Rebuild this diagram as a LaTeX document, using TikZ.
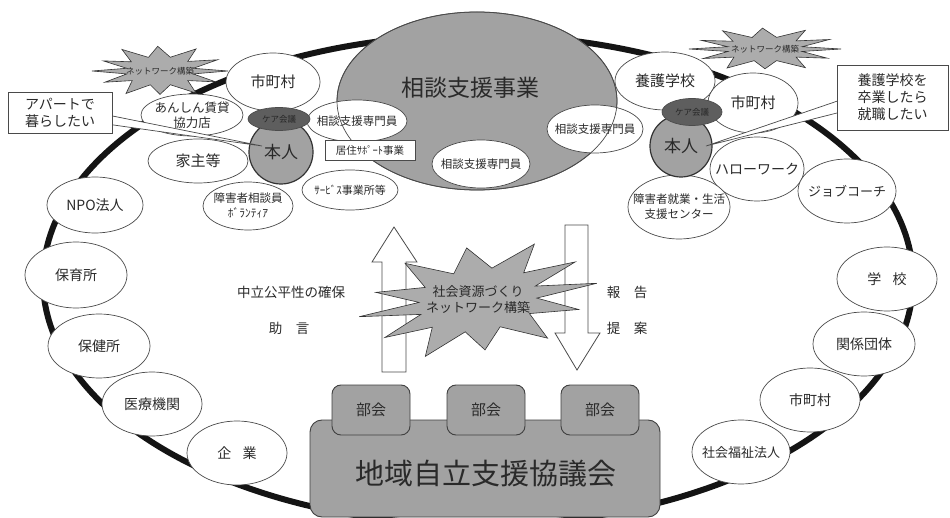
\documentclass[tikz,border=0pt]{standalone}
\usepackage{fontspec}
\setmainfont{Noto Sans CJK JP}
\usetikzlibrary{shapes.geometric,calc}
\definecolor{edge}{HTML}{4A4A4A}
\definecolor{txt}{HTML}{2A2A2A}
\definecolor{midgray}{HTML}{A2A2A2}
\definecolor{caregray}{HTML}{5E5E5E}
\definecolor{stargray}{HTML}{ACACAC}
\newcommand\fsz[2]{\fontsize{#1}{#2}\selectfont}
\newcommand\zc[1]{\makebox[0pt]{\raisebox{-0.38em}[0pt][0pt]{\begin{tabular}{@{}c@{}}#1\end{tabular}}}}
\newcommand\burstpath{(0:1) -- (12:.5) -- (27:.95) -- (42:.55) -- (58:1) -- (74:.55) -- (92:.95) -- (108:.55) -- (124:1) -- (140:.55) -- (155:.92) -- (168:.5) -- (180:1) -- (193:.5) -- (208:.92) -- (222:.55) -- (240:1) -- (255:.55) -- (270:.9) -- (286:.55) -- (302:1) -- (318:.55) -- (333:.92) -- (347:.5) -- cycle}
\tikzset{
  ob/.style={ellipse, draw=edge, fill=white, line width=0.7pt, inner sep=0pt, text=txt},
  sz/.style 2 args={minimum width=#1, minimum height=#2},
  ring/.style={draw=black!92, line width=6pt},
  starsty/.style={fill=stargray, draw=black!80, line width=0.6pt, line join=miter},
  boxsty/.style={rectangle, draw=edge, fill=white, line width=0.8pt, inner sep=0pt, text=txt},
  grayrr/.style={rectangle, rounded corners=9pt, draw=black!75, fill=midgray, line width=0.9pt, inner sep=0pt, text=txt},
  person/.style={circle, draw=black!80, fill=midgray, line width=1.2pt, inner sep=0pt, minimum size=#1, text=txt},
  care/.style={ellipse, draw=black!70, fill=caregray, line width=0.7pt, inner sep=0pt, text=black!85},
  plain/.style={inner sep=0pt, text=txt},
  arrowsty/.style={draw=edge, fill=white, line width=0.8pt, line join=miter},
  wedge/.style={draw=edge, fill=white, line width=0.7pt, line join=miter}
}
\begin{document}
\begin{tikzpicture}[x=1pt, y=-1pt]
\fill[white] (0,0) rectangle (950,518);
\useasboundingbox (0,0) rectangle (950,518);

% outer ring
\draw[ring] (478,280) ellipse [x radius=435pt, y radius=245pt];

% central consultation ellipse
\node[ellipse, draw=edge, fill=midgray, line width=0.8pt, inner sep=0pt, sz={280}{178}] (jigyo) at (477,101) {};
\node[plain, font=\fsz{23}{26}] (jigyoT) at (470,88) {相談支援事業};

% small ellipses around / inside
\node[ob, sz={100}{42}, font=\fsz{11.5}{14}] (sen1) at (357,121) {\zc{相談支援専門員}};
\node[ob, sz={98}{48}, font=\fsz{11.5}{14}] (sen2) at (481,164) {\zc{相談支援専門員}};
\node[ob, sz={96}{48}, font=\fsz{11.5}{14}] (sen3) at (595,129) {\zc{相談支援専門員}};
\node[ob, sz={96}{40}, font=\fsz{11}{13}] (serv) at (350,190) {\zc{ｻｰﾋﾞｽ事業所等}};
\draw[edge, line width=0.7pt] (jigyo.center) ellipse [x radius=140pt, y radius=89pt];
\node[boxsty, sz={90}{20}, font=\fsz{10.5}{12}] (kyoju) at (370,150) {居住ｻﾎﾟｰﾄ事業};

% left cluster
\node[ob, sz={94}{58}, font=\fsz{15}{18}] (city1) at (273,82) {\zc{市町村}};
\node[ob, sz={102}{42}, font=\fsz{12.5}{15}] (anshin) at (192,115) {\zc{あんしん賃貸\\協力店}};
\node[ob, sz={100}{44}, font=\fsz{15}{18}] (yanushi) at (198,161) {\zc{家主等}};
\node[ob, sz={90}{48}, font=\fsz{11.5}{15}] (soudanin) at (248,206) {\zc{障害者相談員\\ﾎﾞﾗﾝﾃｨｱ}};
\node[ob, sz={96}{56}, font=\fsz{14}{17}] (npo) at (95,205) {\zc{NPO法人}};
\node[person=64pt, font=\fsz{17}{20}] (honnin1) at (281,152) {本人};
\node[care, sz={62}{23}, font=\fsz{8.5}{10}] (care1) at (279,119) {\zc{ケア会議}};

% right cluster
\node[ob, sz={100}{58}, font=\fsz{15}{18}] (yogo) at (665,81) {\zc{養護学校}};
\node[ob, sz={90}{60}, font=\fsz{15}{18}] (city2) at (753,103) {\zc{市町村}};
\node[ob, sz={94}{64}, font=\fsz{14}{17}] (hello) at (757,169) {\zc{ハローワーク}};
\node[ob, sz={98}{64}, font=\fsz{13}{16}] (job) at (847,191) {\zc{ジョブコーチ}};
\node[ob, sz={102}{64}, font=\fsz{11.5}{15}] (shugyo) at (679,207) {\zc{障害者就業・生活\\支援センター}};
\node[person=62pt, font=\fsz{17}{20}] (honnin2) at (681,146) {本人};
\node[care, sz={60}{27}, font=\fsz{8.5}{10}] (care2) at (692,112) {\zc{ケア会議}};

% outer organisations
\node[ob, sz={102}{66}, font=\fsz{14}{17}] (hoiku) at (76,275) {\zc{保育所}};
\node[ob, sz={102}{64}, font=\fsz{14}{17}] (hoken) at (99,346) {\zc{保健所}};
\node[ob, sz={100}{64}, font=\fsz{14}{17}] (iryo) at (152,404) {\zc{医療機関}};
\node[ob, sz={100}{64}, font=\fsz{14}{17}] (kigyo) at (237,453) {\zc{企\hspace{0.8em}業}};
\node[ob, sz={100}{64}, font=\fsz{14}{17}] (gakko) at (887,279) {\zc{学\hspace{0.8em}校}};
\node[ob, sz={102}{64}, font=\fsz{14}{17}] (kankei) at (864,344) {\zc{関係団体}};
\node[ob, sz={100}{64}, font=\fsz{14}{17}] (city3) at (810,400) {\zc{市町村}};
\node[ob, sz={98}{64}, font=\fsz{13}{16}] (fukushi) at (741,452) {\zc{社会福祉法人}};

% callouts: pointer wedges first, boxes on top
\coordinate (c1e) at (110,112.5);
\coordinate (c2w) at (839,97.5);
\coordinate (tip1) at ($(honnin1.center)+(-19,-6)$);
\coordinate (tip2) at ($(honnin2.center)+(25,0)$);
\draw[wedge] ($(c1e)+(0,3)$) -- (tip1) -- ($(c1e)+(0,12)$);
\draw[wedge] ($(c2w)+(0,3)$) -- (tip2) -- ($(c2w)+(0,15)$);
\node[boxsty, sz={104}{41}, font=\fsz{14}{17}, align=center] (call1) at (60,112.5) {アパートで\\暮らしたい};
\node[boxsty, sz={111}{65}, font=\fsz{14}{17}, align=center] (call2) at (892.5,97.5) {養護学校を\\卒業したら\\就職したい};

% network stars
\draw[starsty, shift={(160,71)}, x=68pt, y=26pt] \burstpath;
\node[plain, font=\fsz{8.5}{10}] (star1) at (160,71) {ネットワーク構築};
\draw[starsty, shift={(765,49)}, x=76pt, y=22pt] \burstpath;
\node[plain, font=\fsz{8.5}{10}] (star2) at (765,49) {ネットワーク構築};

% middle arrows
\draw[arrowsty] (382,372) -- (382,262) -- (372,262) -- (394,227) -- (417,262) -- (406,262) -- (406,372) -- cycle;
\draw[arrowsty] (565,225) -- (588,225) -- (588,333) -- (600,333) -- (577,370) -- (555,333) -- (565,333) -- cycle;
\draw[starsty, shift={(478,300)}, x=120pt, y=56pt, rotate=8] \burstpath;
\node[plain, font=\fsz{13}{16}, align=center] (star3) at (478,300) {社会資源づくり\\ネットワーク構築};

\node[plain, font=\fsz{13.5}{16}] (lbl1) at (291,292) {中立公平性の確保};
\node[plain, font=\fsz{13.5}{16}] (lbl2) at (289,328) {助\hspace{1em}言};
\node[plain, font=\fsz{13.5}{16}] (lbl3) at (627,292) {報\hspace{1em}告};
\node[plain, font=\fsz{13.5}{16}] (lbl4) at (627,328) {提\hspace{1em}案};

% council
\node[grayrr, rounded corners=12pt, sz={350}{97}] (council) at (485,468.5) {};
\node[plain, font=\fsz{29}{32}] (councilT) at (486,474) {地域自立支援協議会};
\node[grayrr, sz={78}{50}, font=\fsz{15}{18}] (bukai1) at (371,410) {部会};
\node[grayrr, sz={78}{50}, font=\fsz{15}{18}] (bukai2) at (486,410) {部会};
\node[grayrr, sz={78}{50}, font=\fsz{15}{18}] (bukai3) at (600,410) {部会};
\end{tikzpicture}
\end{document}
